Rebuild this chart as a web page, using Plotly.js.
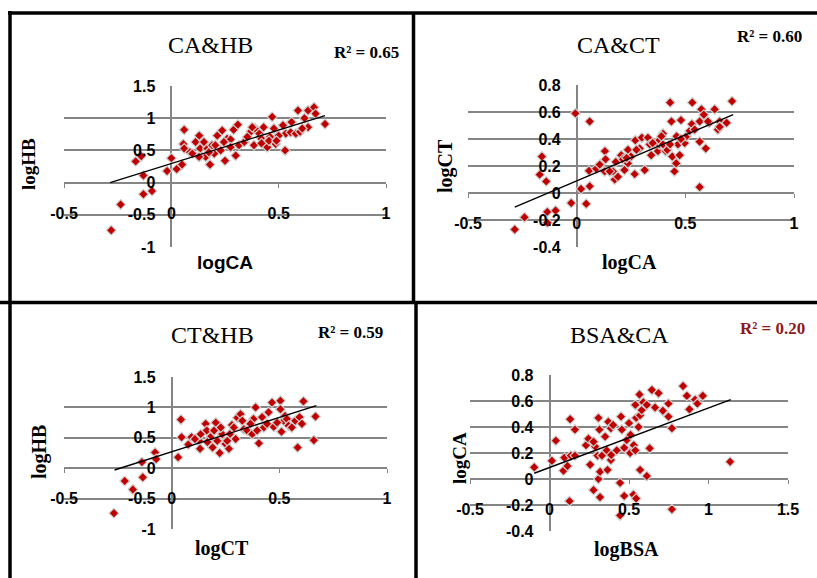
<!DOCTYPE html>
<html>
<head>
<meta charset="utf-8">
<script src="https://cdn.plot.ly/plotly-3.0.1.min.js"></script>
<style>html,body{margin:0;padding:0;background:#fff;}#chart{width:817px;height:578px;}</style>
</head>
<body>
<div id="chart"></div>
<script>
// ---- data ----
const caHB_x = [-0.28,-0.236,-0.13,-0.09,-0.13,-0.166,-0.14,-0.02,0,0.025,0.05,0.06,0.056,0.06,0.087,0.113,0.13,0.098,0.137,0.134,0.18,0.168,0.19,0.2,0.214,0.23,0.237,0.25,0.26,0.276,0.29,0.3,0.31,0.276,0.315,0.34,0.37,0.385,0.39,0.41,0.42,0.43,0.436,0.447,0.46,0.47,0.478,0.486,0.52,0.53,0.533,0.556,0.56,0.58,0.59,0.6,0.62,0.637,0.637,0.665,0.672,0.716,0.377,0.354,0.245,0.205,0.152,0.16,0.175,0.129,0.42,0.5,0.455,0.49,0.61];
const caHB_y = [-0.74,-0.34,-0.18,-0.13,0.11,0.33,0.41,0.18,0.38,0.21,0.28,0.82,0.60,0.53,0.47,0.63,0.73,0.45,0.42,0.53,0.28,0.53,0.58,0.45,0.73,0.5,0.81,0.34,0.68,0.67,0.82,0.42,0.9,0.55,0.58,0.63,0.79,0.58,0.84,0.76,0.68,0.86,0.6,0.55,0.71,1.02,0.84,0.6,0.89,0.5,0.76,0.78,0.94,0.76,1.12,0.79,1.0,1.12,0.86,1.17,1.07,0.91,0.86,0.71,0.63,0.58,0.63,0.40,0.47,0.40,0.61,0.73,0.65,0.65,0.84];
const caHB_trendX = [-0.285, 0.716];
const caHB_trendY = [0.0, 1.04];

const caCT_x = [-0.285,-0.24,-0.135,-0.135,-0.097,-0.17,-0.16,-0.14,-0.025,-0.006,0.02,0.06,0.044,0.06,0.057,0.09,0.106,0.13,0.133,0.129,0.175,0.167,0.18,0.205,0.213,0.22,0.236,0.236,0.25,0.267,0.27,0.29,0.3,0.313,0.328,0.336,0.374,0.38,0.38,0.397,0.41,0.417,0.43,0.436,0.44,0.45,0.458,0.474,0.48,0.466,0.46,0.497,0.505,0.52,0.53,0.532,0.566,0.566,0.566,0.574,0.585,0.594,0.61,0.635,0.65,0.658,0.69,0.715,0.397,0.343,0.275,0.23,0.19,0.152,0.35,0.43,0.48,0.543,0.604,0.658,0.39];
const caCT_y = [-0.27,-0.18,-0.22,-0.14,-0.13,0.136,0.27,0.086,-0.074,0.59,0.03,0.05,-0.08,0.53,0.165,0.18,0.21,0.31,0.25,0.16,0.1,0.16,0.23,0.28,0.25,0.17,0.32,0.22,0.27,0.14,0.39,0.33,0.41,0.17,0.41,0.36,0.31,0.36,0.39,0.44,0.31,0.32,0.67,0.53,0.27,0.16,0.22,0.28,0.54,0.36,0.42,0.37,0.42,0.46,0.51,0.67,0.044,0.38,0.53,0.62,0.58,0.33,0.52,0.62,0.47,0.53,0.52,0.68,0.36,0.28,0.32,0.26,0.12,0.16,0.37,0.36,0.4,0.47,0.53,0.49,0.42];
const caCT_trendX = [-0.285, 0.72];
const caCT_trendY = [-0.104, 0.58];

const ctHB_x = [-0.268,-0.218,-0.18,-0.134,-0.138,-0.077,-0.072,0.03,0.043,0.046,0.077,0.092,0.128,0.132,0.135,0.158,0.163,0.18,0.197,0.205,0.212,0.223,0.235,0.25,0.266,0.27,0.28,0.297,0.305,0.32,0.328,0.335,0.35,0.374,0.38,0.39,0.405,0.42,0.428,0.45,0.466,0.474,0.505,0.505,0.51,0.52,0.527,0.535,0.543,0.574,0.585,0.594,0.605,0.612,0.66,0.668,0.166,0.228,0.289,0.258,0.366,0.443,0.397,0.49,0.558,0.108,0.19];
const ctHB_y = [-0.74,-0.21,-0.35,-0.15,0.1,0.26,0.15,0.18,0.80,0.51,0.39,0.51,0.45,0.32,0.56,0.73,0.62,0.51,0.62,0.75,0.45,0.25,0.56,0.40,0.32,0.56,0.71,0.48,0.83,0.89,0.78,0.64,0.62,0.56,0.81,1.0,0.41,0.84,0.67,0.92,1.08,0.68,1.11,0.97,0.6,0.78,0.86,0.81,0.70,0.78,0.34,0.84,0.73,1.10,0.46,0.85,0.43,0.67,0.67,0.45,0.73,0.73,0.62,0.75,0.67,0.48,0.34];
const ctHB_trendX = [-0.265, 0.672];
const ctHB_trendY = [-0.03, 1.03];

const bsaCA_x = [-0.096,0.015,0.04,0.088,0.094,0.113,0.13,0.134,0.126,0.16,0.16,0.23,0.245,0.256,0.277,0.287,0.302,0.308,0.308,0.314,0.318,0.318,0.33,0.365,0.36,0.37,0.386,0.386,0.388,0.444,0.444,0.45,0.455,0.47,0.47,0.486,0.5,0.507,0.51,0.528,0.53,0.545,0.54,0.54,0.545,0.56,0.566,0.57,0.57,0.58,0.59,0.612,0.612,0.63,0.644,0.664,0.686,0.713,0.748,0.748,0.77,0.77,0.84,0.864,0.88,0.916,0.93,0.964,1.136,0.423,0.35,0.277,0.4];
const bsaCA_y = [0.09,0.14,0.295,0.064,0.164,0.1,0.46,0.18,-0.17,0.38,0.18,0.26,0.31,0.11,-0.085,0.25,0.18,0.47,0.0,0.38,0.056,-0.14,0.18,0.07,0.22,0.44,0.39,0.146,0.185,-0.03,-0.28,0.48,0.38,-0.13,0.24,0.3,0.43,0.2,0.34,-0.12,0.26,-0.15,0.22,0.57,0.47,0.4,0.65,0.07,0.49,0.53,0.59,0.023,0.57,0.236,0.685,0.55,0.66,0.525,0.58,0.48,0.39,-0.233,0.715,0.64,0.536,0.61,0.58,0.64,0.133,0.22,0.326,0.287,0.415];
const bsaCA_trendX = [-0.096, 1.14];
const bsaCA_trendY = [0.044, 0.61];

const panelTitles = ["CA&HB", "CA&CT", "CT&HB", "BSA&CA"];
const r2Labels = ["R² = 0.65", "R² = 0.60", "R² = 0.59", "R² = 0.20"];
const xTitles = ["logCA", "logCA", "logCT", "logBSA"];
const yTitles = ["logHB", "logCT", "logHB", "logCA"];

const tickValsHB = [-1, -0.5, 0, 0.5, 1, 1.5];
const tickTextHB = ["-1", "-0.5", "0", "0.5", "1", "1.5"];
const tickValsCT = [-0.4, -0.2, 0, 0.2, 0.4, 0.6, 0.8];
const tickTextCT = ["-0.4", "-0.2", "0", "0.2", "0.4", "0.6", "0.8"];
const tickValsX1 = [-0.5, 0, 0.5, 1];
const tickTextX1 = ["-0.5", "0", "0.5", "1"];
const tickValsX4 = [-0.5, 0, 0.5, 1, 1.5];
const tickTextX4 = ["-0.5", "0", "0.5", "1", "1.5"];

// ---- layout helpers (pixel -> paper) ----
const W = 817, H = 578;
const px = v => v / W;
const py = v => 1 - v / H;

const RED = '#C00000';
const GRID = '#858585';
const marker = {symbol: 'diamond', size: 7.5, color: RED, line: {color: '#cfcfcf', width: 1.2}};

function pts(x, y, xa, ya) {
  return {type: 'scatter', mode: 'markers', x: x, y: y, xaxis: xa, yaxis: ya, marker: marker, hoverinfo: 'skip'};
}
function trend(x, y, xa, ya) {
  return {type: 'scatter', mode: 'lines', x: x, y: y, xaxis: xa, yaxis: ya, line: {color: '#000', width: 1.4}, hoverinfo: 'skip'};
}

const data = [
  pts(caHB_x, caHB_y, 'x', 'y'), trend(caHB_trendX, caHB_trendY, 'x', 'y'),
  pts(caCT_x, caCT_y, 'x2', 'y2'), trend(caCT_trendX, caCT_trendY, 'x2', 'y2'),
  pts(ctHB_x, ctHB_y, 'x3', 'y3'), trend(ctHB_trendX, ctHB_trendY, 'x3', 'y3'),
  pts(bsaCA_x, bsaCA_y, 'x4', 'y4'), trend(bsaCA_trendX, bsaCA_trendY, 'x4', 'y4')
];

const tickFont = {family: 'Liberation Sans, Arial, sans-serif', size: 16, color: '#000', weight: 'bold'};

function xAxis(domPx, range, zeroPy, vals, text) {
  return {
    domain: [px(domPx[0]), px(domPx[1])], range: range, anchor: 'free', position: py(zeroPy),
    showgrid: false, zeroline: true, zerolinecolor: GRID, zerolinewidth: 2, showline: false,
    tickmode: 'array', tickvals: vals, ticktext: text, ticks: 'outside', ticklen: 4, tickcolor: GRID, tickwidth: 1,
    tickfont: tickFont, ticklabelstandoff: 12, fixedrange: true
  };
}
function yAxis(domPx, range, zeroPx, vals, text) {
  return {
    domain: [py(domPx[1]), py(domPx[0])], range: range, anchor: 'free', position: px(zeroPx),
    showgrid: true, gridcolor: GRID, gridwidth: 2, zeroline: true, zerolinecolor: GRID, zerolinewidth: 2, showline: false,
    tickmode: 'array', tickvals: vals, ticktext: text, ticks: '',
    tickfont: tickFont, ticklabelstandoff: 16, fixedrange: true
  };
}

const serif = 'Liberation Serif, Times New Roman, serif';
const sans = 'Liberation Sans, Arial, sans-serif';

function ann(text, xPx, yPx, font, opts) {
  return Object.assign({text: text, xref: 'paper', yref: 'paper', x: px(xPx), y: py(yPx),
    xanchor: 'center', yanchor: 'middle', showarrow: false, font: font}, opts || {});
}

const annotations = [
  ann(panelTitles[0], 210, 45, {family: serif, size: 24, color: '#000'}),
  ann(panelTitles[1], 618, 45, {family: serif, size: 24, color: '#000'}),
  ann(panelTitles[2], 212, 335, {family: serif, size: 24, color: '#000'}),
  ann(panelTitles[3], 619, 335, {family: serif, size: 24, color: '#000'}),
  ann('<b>' + r2Labels[0] + '</b>', 332, 53, {family: serif, size: 17, color: '#000'}, {xanchor: 'left'}),
  ann('<b>' + r2Labels[1] + '</b>', 735, 37, {family: serif, size: 17, color: '#000'}, {xanchor: 'left'}),
  ann('<b>' + r2Labels[2] + '</b>', 316, 332, {family: serif, size: 17, color: '#000'}, {xanchor: 'left'}),
  ann('<b>' + r2Labels[3] + '</b>', 738, 328, {family: serif, size: 17, color: '#8B1A1A'}, {xanchor: 'left'}),
  ann('<b>' + xTitles[0] + '</b>', 225, 262, {family: sans, size: 19, color: '#000'}),
  ann('<b>' + xTitles[1] + '</b>', 629, 262, {family: serif, size: 20, color: '#000'}),
  ann('<b>' + xTitles[2] + '</b>', 222, 548, {family: serif, size: 20, color: '#000'}),
  ann('<b>' + xTitles[3] + '</b>', 626, 549, {family: serif, size: 20, color: '#000'}),
  ann('<b>' + yTitles[0] + '</b>', 28, 164, {family: serif, size: 19, color: '#000'}, {textangle: -90}),
  ann('<b>' + yTitles[1] + '</b>', 446, 166, {family: serif, size: 20, color: '#000'}, {textangle: -90}),
  ann('<b>' + yTitles[2] + '</b>', 39, 452, {family: serif, size: 20, color: '#000'}, {textangle: -90}),
  ann('<b>' + yTitles[3] + '</b>', 459, 458, {family: serif, size: 19, color: '#000'}, {textangle: -90})
];

function seg(x0, y0, x1, y1) {
  return {type: 'line', xref: 'paper', yref: 'paper', x0: px(x0), y0: py(y0), x1: px(x1), y1: py(y1),
    line: {color: '#000', width: 3.5}, layer: 'above'};
}
const shapes = [
  seg(8, 13, 817, 13),
  seg(10, 11, 10, 303),
  seg(413.5, 13, 413.5, 303),
  seg(0, 302.5, 817, 302.5),
  seg(10, 302, 10, 578),
  seg(416, 302, 416, 578)
];

const layout = {
  width: W, height: H, margin: {l: 0, r: 0, t: 0, b: 0},
  paper_bgcolor: '#fff', plot_bgcolor: 'rgba(0,0,0,0)', showlegend: false,
  xaxis: xAxis([64, 386], [-0.5, 1], 183, tickValsX1, tickTextX1),
  yaxis: yAxis([86, 247], [-1, 1.5], 171.3, tickValsHB, tickTextHB),
  xaxis2: xAxis([468, 794], [-0.5, 1], 193, tickValsX1, tickTextX1),
  yaxis2: yAxis([85, 247], [-0.4, 0.8], 576.7, tickValsCT, tickTextCT),
  xaxis3: xAxis([64, 387], [-0.5, 1], 468, tickValsX1, tickTextX1),
  yaxis3: yAxis([377, 529], [-1, 1.5], 171.7, tickValsHB, tickTextHB),
  xaxis4: xAxis([470, 788], [-0.5, 1.5], 479, tickValsX4, tickTextX4),
  yaxis4: yAxis([375, 531], [-0.4, 0.8], 549.5, tickValsCT, tickTextCT),
  annotations: annotations,
  shapes: shapes
};

Plotly.newPlot('chart', data, layout, {staticPlot: true, displayModeBar: false});
</script>
</body>
</html>
